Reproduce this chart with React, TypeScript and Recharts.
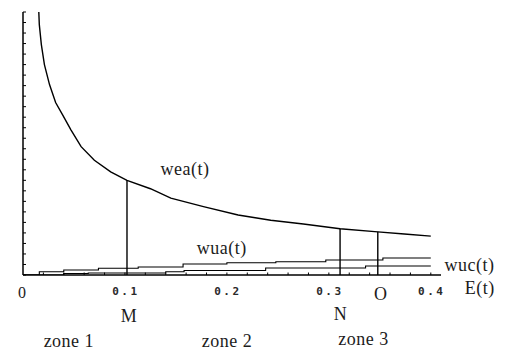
import { LineChart, Line, XAxis, YAxis, ReferenceLine, ReferenceDot } from 'recharts';

// E(t) samples for wea(t), the falling curve
const WEA_T = [0.0155, 0.016, 0.018, 0.021, 0.026, 0.032, 0.039, 0.047, 0.057, 0.07, 0.086, 0.102, 0.125, 0.145, 0.177, 0.211, 0.243, 0.275, 0.311, 0.348, 0.374, 0.4];
const WEA_V = [25, 23.8, 21.9, 20.0, 18.1, 16.4, 15.2, 13.8, 12.2, 10.9, 9.8, 9.0, 8.2, 7.3, 6.5, 5.7, 5.2, 4.85, 4.4, 4.1, 3.9, 3.7];

// wua(t) and wuc(t) are step lines close to the axis
const WUA_T = [0, 0.016, 0.04, 0.074, 0.113, 0.157, 0.2, 0.248, 0.297, 0.353, 0.4];
const WUA_V = [0, 0.31, 0.48, 0.64, 0.76, 1.05, 1.17, 1.26, 1.43, 1.62, 1.62];
const WUC_T = [0, 0.04, 0.064, 0.14, 0.158, 0.238, 0.336, 0.4];
const WUC_V = [0, 0.14, 0.19, 0.31, 0.43, 0.67, 0.86, 0.86];

const X_TICKS = [0, 0.02, 0.04, 0.06, 0.08, 0.1, 0.12, 0.14, 0.16, 0.18, 0.2, 0.22, 0.24, 0.26, 0.28, 0.3, 0.32, 0.34, 0.36, 0.38, 0.4];
const Y_TICKS = [0, 1, 2, 3, 4, 5, 6, 7, 8, 9, 10, 11, 12, 13, 14, 15, 16, 17, 18, 19, 20, 21, 22, 23, 24, 25];

// zone boundaries on E(t) and wea(t) there
const MARKERS = ['M', 'N', 'O'];
const MARKER_T = [0.102, 0.311, 0.348];
const MARKER_V = [9.0, 4.4, 4.1];

const ZONES = ['zone 1', 'zone 2', 'zone 3'];
const ZONE_T = [0.045, 0.2, 0.334];

const CURVE_NAMES = ['wea(t)', 'wua(t)', 'wuc(t)', 'E(t)'];
const CURVE_LABEL_T = [0.159, 0.195, 0.438, 0.448];
const CURVE_LABEL_V = [9.5, 2.0, 0.38, 0];

const MARKER_LABEL_OFFSET = [
  { dx: 2, dy: 47 },
  { dx: 0.5, dy: 45 },
  { dx: 3, dy: 25 },
];
const ZONE_LABEL_DY = [72, 72, 70];
const CURVE_LABEL_DY = [0, 0, 0, 19];

const INK = '#1c1c1c';
const SERIF = '"Liberation Serif", "Times New Roman", serif';

const wea = WEA_T.map((t, i) => ({ t, v: WEA_V[i] }));
const wua = WUA_T.map((t, i) => ({ t, v: WUA_V[i] }));
const wuc = WUC_T.map((t, i) => ({ t, v: WUC_V[i] }));

const XTick = (props: any) => {
  const { x, y, payload } = props;
  const v: number = payload.value;
  const major = Math.abs(v * 10 - Math.round(v * 10)) < 1e-6;
  return (
    <g>
      {v > 0 && <line x1={x} x2={x} y1={y} y2={y - 2.5} stroke="#000" strokeWidth={1} />}
      {v === 0 && (
        <text x={x - 1} y={y + 23} textAnchor="middle" fontFamily={SERIF} fontSize={16} fill={INK}>
          0
        </text>
      )}
      {major && v > 0 && (
        <text
          x={x + 1}
          y={y + 20}
          textAnchor="middle"
          fontFamily='"DejaVu Sans Mono", monospace'
          fontWeight="bold"
          fontSize={11}
          letterSpacing={2.5}
          fill="#2a2a2a"
        >
          {v.toFixed(1)}
        </text>
      )}
    </g>
  );
};

// y ticks point into the plot, no numbers
const YTick = (props: any) => {
  const { x, y } = props;
  return <line x1={x} x2={x + 3} y1={y} y2={y} stroke="#000" strokeWidth={1} />;
};

const textLabel = (text: string, dx: number, dy: number, size = 18) => (props: any) => {
  const vb = props.viewBox;
  return (
    <text
      x={vb.x + dx}
      y={vb.y + (vb.height || 0) + dy}
      textAnchor="middle"
      fontFamily={SERIF}
      fontSize={size}
      letterSpacing={0.5}
      fill={INK}
    >
      {text}
    </text>
  );
};

export default function App() {
  return (
    <div style={{ position: 'absolute', left: 0, top: 0, width: 507, height: 353, background: '#fff' }}>
      <LineChart width={507} height={353} margin={{ top: 12, right: 66, bottom: 48, left: 22 }}>
        <XAxis
          type="number"
          dataKey="t"
          domain={[0, 0.41]}
          allowDataOverflow
          ticks={X_TICKS}
          interval={0}
          tickLine={false}
          tickSize={0}
          tickMargin={0}
          tick={<XTick />}
          axisLine={{ stroke: '#000', strokeWidth: 1.3 }}
          height={30}
        />
        <YAxis
          type="number"
          domain={[0, 25]}
          allowDataOverflow
          ticks={Y_TICKS}
          interval={0}
          width={1}
          tickSize={0}
          tickMargin={0}
          tickLine={false}
          tick={<YTick />}
          axisLine={{ stroke: '#000', strokeWidth: 1.5 }}
        />

        {/* wea, wua, wuc */}
        <Line data={wea} dataKey="v" type="linear" stroke="#000" strokeWidth={1.4} dot={false} isAnimationActive={false} />
        <Line data={wua} dataKey="v" type="stepAfter" stroke="#000" strokeWidth={1.1} dot={false} isAnimationActive={false} />
        <Line data={wuc} dataKey="v" type="stepAfter" stroke="#000" strokeWidth={1.1} dot={false} isAnimationActive={false} />

        {/* vertical lines at M, N, O up to wea(t) */}
        {MARKERS.map((m, i) => (
          <ReferenceLine
            key={m}
            segment={[
              { x: MARKER_T[i], y: 0 },
              { x: MARKER_T[i], y: MARKER_V[i] },
            ]}
            stroke="#000"
            strokeWidth={1.4}
            ifOverflow="visible"
            label={{ content: textLabel(m, MARKER_LABEL_OFFSET[i].dx, MARKER_LABEL_OFFSET[i].dy) }}
          />
        ))}

        {ZONES.map((z, i) => (
          <ReferenceDot
            key={z}
            x={ZONE_T[i]}
            y={0}
            r={0}
            fill="none"
            stroke="none"
            ifOverflow="visible"
            label={{ content: textLabel(z, 0, ZONE_LABEL_DY[i]) }}
          />
        ))}

        {CURVE_NAMES.map((c, i) => (
          <ReferenceDot
            key={c}
            x={CURVE_LABEL_T[i]}
            y={CURVE_LABEL_V[i]}
            r={0}
            fill="none"
            stroke="none"
            ifOverflow="visible"
            label={{ content: textLabel(c, 0, CURVE_LABEL_DY[i]) }}
          />
        ))}
      </LineChart>
    </div>
  );
}
